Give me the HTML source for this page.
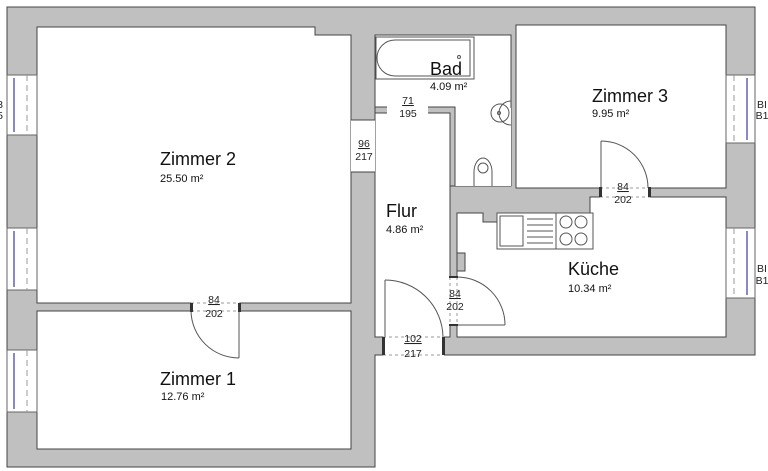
<!DOCTYPE html>
<html><head><meta charset="utf-8"><style>
html,body{margin:0;padding:0;background:#fff;}
svg{display:block;font-family:"Liberation Sans",sans-serif;}
</style></head><body>
<svg width="768" height="471" viewBox="0 0 768 471" xmlns="http://www.w3.org/2000/svg">
<g stroke="#444" stroke-width="1">
<polygon points="7,7 755,7 755,355 375,355 375,467 7,467" fill="#c0c0c0"/>
<!-- rooms -->
<polygon points="37,27 315,27 315,35 351,35 351,303 37,303" fill="#fff"/>
<rect x="37" y="311" width="314" height="138" fill="#fff"/>
<rect x="375" y="35" width="136" height="151" fill="#fff"/>
<polygon points="455,108 455,186 511,186 511,108" fill="#fff" stroke="none"/>
<rect x="375" y="113" width="75" height="224" fill="#fff"/>
<rect x="516" y="25" width="210" height="163" fill="#fff"/>
<polygon points="457,213 483,213 483,222 497,222 497,213 590,213 590,197 726,197 726,337 457,337" fill="#fff"/>
<rect x="457" y="253" width="8" height="18" fill="#c0c0c0"/>
</g>
<!-- Bad walls inner -->
<g fill="#c0c0c0" stroke="#444">
<polygon points="375,107 444,107 455,107 455,186 450,186 450,113 375,113"/>
</g>
<!-- openings -->
<g fill="#fff" stroke="none">
<rect x="387" y="106" width="41" height="8"/>
<rect x="351" y="120" width="24" height="52"/>
<rect x="191" y="302" width="49" height="10"/>
<rect x="600" y="187" width="50" height="11"/>
<rect x="449" y="277" width="9" height="48"/>
<rect x="383" y="336" width="61" height="20"/>
</g>
<g stroke="#444" fill="none">
<line x1="351" y1="120" x2="375" y2="120"/><line x1="351" y1="172" x2="375" y2="172"/>
</g>
<!-- windows -->
<g stroke="#666" fill="#fff">
<rect x="7" y="75" width="30" height="60"/><rect x="7" y="228" width="30" height="62"/><rect x="7" y="350" width="30" height="62"/>
<rect x="726" y="75" width="29" height="68"/><rect x="726" y="228" width="29" height="70"/>
</g>
<g stroke="#8888cc" stroke-width="2">
<line x1="14" y1="78" x2="14" y2="132"/><line x1="14" y1="231" x2="14" y2="287"/><line x1="14" y1="353" x2="14" y2="409"/>
<line x1="747" y1="78" x2="747" y2="140"/><line x1="747" y1="231" x2="747" y2="295"/>
</g>
<g stroke="#999" stroke-dasharray="6,4">
<line x1="27" y1="75" x2="27" y2="135"/><line x1="27" y1="228" x2="27" y2="290"/><line x1="27" y1="350" x2="27" y2="412"/>
<line x1="734" y1="75" x2="734" y2="143"/><line x1="734" y1="228" x2="734" y2="298"/>
</g>
<!-- doors -->
<g stroke="#555" fill="none">
<line x1="239" y1="311" x2="239" y2="358"/><path d="M191,311 A48,48 0 0 0 239,358"/>
<line x1="601" y1="188" x2="601" y2="141"/><path d="M601,141 A47,47 0 0 1 648,188"/>
<line x1="457" y1="325" x2="505" y2="325"/><path d="M457,277 A48,48 0 0 1 505,325"/>
<line x1="385" y1="337" x2="385" y2="280"/><path d="M385,280 A58,58 0 0 1 443,337"/>
</g>
<g stroke="#999" stroke-dasharray="3,3" fill="none">
<line x1="191" y1="303" x2="240" y2="303"/><line x1="191" y1="311" x2="240" y2="311"/>
<line x1="600" y1="188" x2="650" y2="188"/><line x1="600" y1="197" x2="650" y2="197"/>
<line x1="450" y1="277" x2="450" y2="325"/><line x1="457" y1="277" x2="457" y2="325"/>
<line x1="383" y1="337" x2="443" y2="337"/><line x1="383" y1="355" x2="443" y2="355"/>
</g>
<g fill="#333">
<rect x="190" y="303" width="3" height="9"/><rect x="238" y="303" width="3" height="9"/>
<rect x="599" y="187" width="3" height="10"/><rect x="648" y="187" width="3" height="10"/>
<rect x="449" y="276" width="9" height="2"/><rect x="449" y="324" width="9" height="2"/>
<rect x="382" y="337" width="3" height="18"/><rect x="442" y="337" width="3" height="18"/>
</g>
<!-- fixtures -->
<g stroke="#555" fill="none">
<rect x="376" y="37" width="98" height="42"/>
<path d="M395,40 H470 V76 H395 A18,18 0 0 1 395,40 Z"/>
<circle cx="459" cy="57" r="1.5"/>
<path d="M511,101 A12,12 0 1 0 511,125"/><circle cx="500" cy="113" r="9"/><circle cx="499" cy="113" r="1.5"/>
<path d="M474,186 V172 A9,14 0 1 1 492,172 V186"/><ellipse cx="483" cy="168" rx="5" ry="5"/>
<rect x="497" y="213" width="96" height="36"/>
<rect x="500" y="216" width="23" height="30"/>
<line x1="527" y1="219" x2="553" y2="219"/><line x1="527" y1="225" x2="553" y2="225"/><line x1="527" y1="231" x2="553" y2="231"/><line x1="527" y1="237" x2="553" y2="237"/><line x1="527" y1="243" x2="553" y2="243"/>
<line x1="556" y1="213" x2="556" y2="249"/>
<circle cx="566" cy="222" r="6"/><circle cx="581" cy="222" r="6"/><circle cx="566" cy="239" r="6"/><circle cx="581" cy="239" r="6"/>
</g>
<!-- labels -->
<g fill="#111">
<text x="160" y="165" font-size="18">Zimmer 2</text><text x="160" y="182" font-size="11">25.50 m²</text>
<text x="160" y="385" font-size="18">Zimmer 1</text><text x="161" y="400" font-size="11">12.76 m²</text>
<text x="592" y="102" font-size="18">Zimmer 3</text><text x="592" y="117" font-size="11">9.95 m²</text>
<text x="430" y="75" font-size="18">Bad</text><text x="430" y="90" font-size="11">4.09 m²</text>
<text x="386" y="217" font-size="18">Flur</text><text x="386" y="233" font-size="11">4.86 m²</text>
<text x="568" y="275" font-size="18">Küche</text><text x="568" y="292" font-size="11">10.34 m²</text>
</g>
<g fill="#222" font-size="10.5" text-anchor="middle">
<text x="214" y="303" text-decoration="underline">84</text><text x="214" y="317">202</text>
<text x="623" y="190" text-decoration="underline">84</text><text x="623" y="203">202</text>
<text x="455" y="297" text-decoration="underline">84</text><text x="455" y="310">202</text>
<text x="413" y="342" text-decoration="underline">102</text><text x="413" y="357">217</text>
<text x="408" y="104" text-decoration="underline">71</text><text x="408" y="117">195</text>
<text x="364" y="147" text-decoration="underline">96</text><text x="364" y="160">217</text>
<text x="0" y="108">3</text><text x="0" y="119">5</text>
<text x="762" y="108">BI</text><text x="762" y="119">B1</text>
<text x="762" y="272">BI</text><text x="762" y="284">B1</text>
</g>
</svg>
</body></html>
